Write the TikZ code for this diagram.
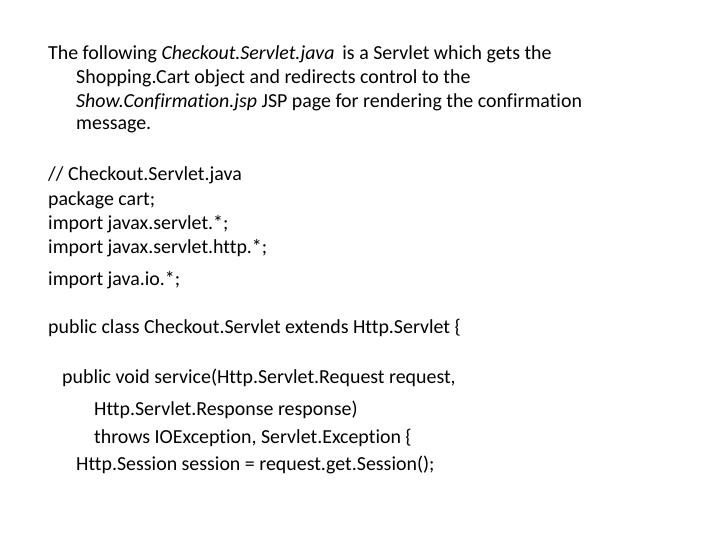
\documentclass[tikz,border=0pt]{standalone}
\usepackage{fontspec}
\setmainfont{Carlito}[Ligatures=NoCommon]
\begin{document}
\begin{tikzpicture}[x=1pt,y=-1pt,txt/.style={anchor=west,inner sep=0pt,font=\fontsize{19.9}{22}\selectfont}]
\useasboundingbox[fill=white] (0,0) rectangle (720,540);
\node[txt] (l1) at (48,54) {The following \textit{Checkout.Servlet.java}\, is a Servlet which gets the};
\node[txt] (l2) at (76,78) {Shopping.Cart object and redirects control to the};
\node[txt] (l3) at (76,102) {\textit{Show.Confirmation.jsp} JSP page for rendering the confirmation};
\node[txt] (l4) at (76,126) {message.};
\node[txt] (c1) at (48,175) {// Checkout.Servlet.java};
\node[txt] (c2) at (48,200) {package cart;};
\node[txt] (c3) at (48,224) {import javax.servlet.*;};
\node[txt] (c4) at (48,248) {import javax.servlet.http.*;};
\node[txt] (c5) at (48,280) {import java.io.*;};
\node[txt] (c6) at (48,328) {public class Checkout.Servlet extends Http.Servlet \{};
\node[txt] (c7) at (62,378) {public void service(Http.Servlet.Request request,};
\node[txt] (c8) at (94,410) {Http.Servlet.Response response)};
\node[txt] (c9) at (94,438) {throws IOException, Servlet.Exception \{};
\node[txt] (c10) at (76,465) {Http.Session session = request.get.Session();};
\end{tikzpicture}
\end{document}
